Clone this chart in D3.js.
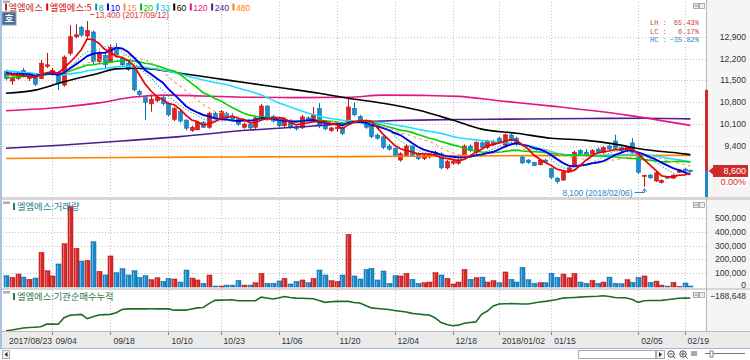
<!DOCTYPE html>
<html><head><meta charset="utf-8">
<script src="https://cdn.jsdelivr.net/npm/d3@7/dist/d3.min.js"></script>
<style>body{margin:0;background:#fff}svg{display:block}</style>
</head><body>
<svg id="c" width="750" height="360"></svg>
<script>
// ---------------- DATA ----------------
const dates = ["2017/08/23","2017/08/24","2017/08/25","2017/08/28","2017/08/29","2017/08/30","2017/08/31","2017/09/01",
"2017/09/04","2017/09/05","2017/09/06","2017/09/07","2017/09/08","2017/09/11","2017/09/12","2017/09/13","2017/09/14","2017/09/15",
"2017/09/18","2017/09/19","2017/09/20","2017/09/21","2017/09/22","2017/09/25","2017/09/26","2017/09/27","2017/09/28","2017/09/29",
"2017/10/10","2017/10/11","2017/10/12","2017/10/13","2017/10/16","2017/10/17","2017/10/18","2017/10/19","2017/10/20",
"2017/10/23","2017/10/24","2017/10/25","2017/10/26","2017/10/27","2017/10/30","2017/10/31","2017/11/01","2017/11/02","2017/11/03",
"2017/11/06","2017/11/07","2017/11/08","2017/11/09","2017/11/10","2017/11/13","2017/11/14","2017/11/15","2017/11/16","2017/11/17",
"2017/11/20","2017/11/21","2017/11/22","2017/11/23","2017/11/24","2017/11/27","2017/11/28","2017/11/29","2017/11/30","2017/12/01",
"2017/12/04","2017/12/05","2017/12/06","2017/12/07","2017/12/08","2017/12/11","2017/12/12","2017/12/13","2017/12/14","2017/12/15",
"2017/12/18","2017/12/19","2017/12/20","2017/12/21","2017/12/22","2017/12/26","2017/12/27","2017/12/28",
"2018/01/02","2018/01/03","2018/01/04","2018/01/05","2018/01/08","2018/01/09","2018/01/10","2018/01/11","2018/01/12",
"2018/01/15","2018/01/16","2018/01/17","2018/01/18","2018/01/19","2018/01/22","2018/01/23","2018/01/24","2018/01/25","2018/01/26",
"2018/01/29","2018/01/30","2018/01/31","2018/02/01","2018/02/02",
"2018/02/05","2018/02/06","2018/02/07","2018/02/08","2018/02/09","2018/02/12","2018/02/13","2018/02/14",
"2018/02/19","2018/02/20"];

const open = [11780,11480,11560,11820,11560,11600,11560,11950,11700,11750,11350,12370,12900,13200,12920,13050,12100,12300,12100,12560,
12200,12050,11850,11150,10950,10750,10850,10950,10770,10250,10500,10230,9900,9920,10150,10000,10450,10300,10450,10350,
10250,10000,10100,10000,10300,10680,10350,10250,10050,10200,10000,9980,10300,10200,10600,10050,9900,9950,10000,10170,
10600,10350,10200,10050,9750,9690,9400,9330,8950,9100,9400,9150,9000,9050,9100,9150,8700,8850,8850,9100,
9400,9200,9500,9350,9450,9650,9430,9750,9650,9050,8950,8870,8800,8950,8680,8370,8310,8600,8770,9250,
9200,9100,9300,9200,9400,9560,9350,9250,9500,9110,8430,8470,8280,8230,8420,8370,8560,8660,8620];
const high = [11850,11620,11760,11900,11720,11620,12150,12380,11900,11800,12300,13270,13300,13250,13400,13100,12450,12400,12650,12700,
12250,12100,11900,11200,11000,11050,11000,11000,10800,10650,10550,10250,10050,10200,10200,10500,10500,10550,10500,10450,
10300,10150,10150,10350,10750,10700,10400,10300,10250,10250,10050,10400,10350,10650,10770,10100,10000,10050,10050,10970,
10800,10400,10250,10100,9800,9720,9450,9350,9200,9450,9420,9200,9150,9150,9250,9200,8950,8950,9000,9450,
9450,9550,9550,9600,9600,9700,9800,9800,9700,9100,8980,8890,8980,8980,8700,8400,8600,8750,9250,9300,
9300,9300,9350,9400,9450,9760,9400,9400,9650,9150,8480,8500,8600,8330,8440,8480,8650,8700,8650];
const low = [11500,11360,11520,11600,11480,11320,11540,11900,11650,11190,11300,12300,12850,12900,12850,12000,12050,11900,12050,12250,
11950,11800,11150,10950,10230,10500,10800,10700,10350,10200,10150,9900,9850,9900,9980,9950,10250,10250,10250,10200,
10050,9950,9900,9950,10250,10250,10150,10000,10000,9950,9900,9950,10150,10150,9970,9900,9850,9850,9750,10100,
10350,10150,9950,9650,9600,9300,9250,9050,8900,9050,9050,8950,8950,9000,9050,8650,8650,8800,8800,9050,
9200,9150,9300,9300,9400,9500,9400,9550,9400,8820,8830,8750,8780,8850,8350,8200,8280,8580,8750,9100,
9050,9050,9150,9150,9250,9300,9200,9200,9150,8500,8100,8350,8250,8200,8350,8360,8540,8580,8580];
const close = [11560,11580,11700,11650,11650,11380,12050,12000,11820,11400,12250,12900,12960,12950,13100,12100,12350,12000,12560,12300,
12000,11850,11200,11050,10800,10900,10950,10760,10400,10600,10200,9970,10000,10150,10000,10450,10300,10500,10300,10250,
10100,10100,9980,10300,10680,10300,10200,10050,10200,10000,9950,10330,10200,10400,10050,9950,9980,10000,9800,10650,
10400,10200,10000,9700,9650,9360,9300,9100,9150,9400,9100,9000,9100,9120,9200,8700,8900,8900,8950,9400,
9250,9520,9350,9550,9550,9530,9760,9600,9450,8860,8870,8780,8950,8880,8400,8260,8570,8700,9200,9150,
9100,9250,9200,9350,9300,9330,9250,9380,9200,8560,8460,8380,8540,8300,8370,8470,8640,8600,8600];
// closes of the sessions before 2017/08/23 (needed for the moving averages)
const priorClose = [12200,12350,12250,12100,12050,12300,12150,12000,12100,12250,12050,12100,12050,
11500,11400,11350,11450,11550,11500,11400,11450,11500,11400,
11700,11750,11800,11700,11850,11750,11700,11800,11750];
const volume = [82000,70000,94000,72000,56000,65000,251000,118000,80000,167000,314000,582000,280000,188000,193000,328000,114000,87000,225000,104000,
133000,87000,118000,70000,82000,53000,67000,41000,63000,58000,36000,123000,65000,51000,27000,87000,7000,7000,14000,14000,
48000,14000,14000,31000,99000,27000,27000,44000,63000,22000,41000,51000,31000,63000,123000,87000,46000,41000,87000,382000,
80000,58000,128000,135000,51000,116000,27000,82000,80000,99000,56000,27000,31000,36000,104000,87000,63000,22000,36000,128000,
56000,67000,72000,36000,46000,31000,109000,56000,36000,143000,53000,27000,31000,31000,99000,70000,94000,67000,99000,36000,
27000,48000,27000,36000,72000,27000,24000,53000,34000,70000,80000,34000,43000,14000,7000,34000,3000,29000,7000];
// 기관순매수누적 (cumulative institutional net buying, shares)
const instCum = [-1356000,-1331000,-1295000,-1260000,-1242000,-1231000,-1217000,-1123000,-1121000,-1125000,
-891000,-808000,-787000,-772000,-926000,-855000,-797000,-780000,-772000,-715000,
-597000,-575000,-574000,-576000,-575000,-573000,-575000,-576000,-575000,-622000,
-621000,-622000,-579000,-540000,-525000,-389000,-271000,-264000,-257000,-250000,
-282000,-282000,-283000,-281000,-156000,-185000,-224000,-185000,-131000,-167000,
-189000,-196000,-203000,-214000,-275000,-343000,-321000,-307000,-306000,-308000,
-346000,-364000,-454000,-540000,-561000,-579000,-597000,-633000,-658000,-686000,
-737000,-758000,-780000,-797000,-901000,-1066000,-1134000,-1181000,-1159000,-1088000,
-1063000,-1041000,-772000,-651000,-472000,-400000,-393000,-389000,-393000,-400000,
-401000,-364000,-328000,-307000,-275000,-239000,-189000,-178000,-167000,-156000,
-142000,-131000,-121000,-106000,-131000,-167000,-178000,-185000,-239000,-343000,
-282000,-278000,-275000,-271000,-250000,-224000,-196000,-189000,-188648];
// long moving averages (session index, price)
const ma60Idx  = [0,5,10,16,19,22,25,30,36,42,48,54,59,65,71,77,82,88,94,100,105,110,116,118];
const ma60Val  = [11090,11190,11460,11730,11870,11890,11870,11730,11570,11410,11250,11090,10930,10770,10550,10230,9940,9810,9650,9580,9460,9290,9170,9125];
const ma120Idx = [0,10,16,22,28,34,42,50,59,65,72,78,85,95,107,118];
const ma120Val = [10530,10650,10780,10970,11030,11000,10960,10950,10960,11030,11020,10990,10850,10660,10390,10060];
const ma240Idx = [0,10,20,30,42,53,62,71,80,90,100,110,118];
const ma240Val = [9330,9430,9560,9700,9910,10040,10180,10230,10250,10265,10280,10290,10270];
const ma480Idx = [0,20,40,60,80,100,118];
const ma480Val = [9000,9030,9050,9060,9085,9095,9100];
const shortPeriods = [33,20,15,10,8,5];
const legendItems = ["엘엠에스","엘엠에스:5","8","10","15","20","33","60","120","240","480"];
const tickIdx    = [0,8,18,28,37,47,57,67,77,85,94,109,117];
const tickLabels = ["2017/08/23","09/04","09/18","10/10","10/23","11/06","11/20","12/04","12/18","2018/01/02","01/15","02/05","02/19"];
const priceTicks = [12900,12200,11500,10800,10100,9400];
const volTicks   = [0,100000,200000,300000,400000,500000];
const refHigh = 11200;

// ---------------- LAYOUT ----------------
const N = close.length;
const svg = d3.select("#c");
const NUM = "'Liberation Sans', Arial, sans-serif";
const KR = "'Noto Sans CJK KR', 'Liberation Sans', sans-serif";
const UP = "#e02222", UPS = "#c01414", DN = "#1a8fd0", DNS = "#0f6fb0";
const plotL = 3, plotR = 706;
const main = {t:2, b:197}, volP = {t:200, b:288}, cumP = {t:290, b:331};

const x  = d3.scaleLinear().domain([0, N-1]).range([6, 6 + (N-1)*5.8]);
const yP = d3.scaleLinear().domain([9400, 12900]).range([146, 36.7]);
const yV = d3.scaleLinear().domain([0, 500000]).range([287, 218]);
const yC = d3.scaleLinear().domain([-1400000, 0]).range([331.9, 292.8]);

svg.append("rect").attr("width",750).attr("height",360).attr("fill","#fff");
svg.append("rect").attr("x",707).attr("y",0).attr("width",43).attr("height",331).attr("fill","#f5f5f5");

// clip paths
const defs = svg.append("defs");
[["cm",main],["cv",volP],["cc",cumP]].forEach(([id,p])=>{
  defs.append("clipPath").attr("id",id).append("rect")
    .attr("x",plotL).attr("y",p.t).attr("width",plotR-plotL).attr("height",p.b-p.t);
});

// grids
const grid = svg.append("g").attr("stroke","#c4c4c4").attr("stroke-dasharray","1,2").attr("stroke-width",1);
tickIdx.filter(i=>i>0).forEach(i=>{
  grid.append("line").attr("x1",Math.round(x(i))+0.5).attr("x2",Math.round(x(i))+0.5).attr("y1",main.t).attr("y2",cumP.b);
});
priceTicks.forEach(p=>{
  grid.append("line").attr("x1",plotL).attr("x2",plotR).attr("y1",Math.round(yP(p))+0.5).attr("y2",Math.round(yP(p))+0.5);
});
volTicks.filter(v=>v>0).forEach(v=>{
  grid.append("line").attr("x1",plotL).attr("x2",plotR).attr("y1",Math.round(yV(v))+0.5).attr("y2",Math.round(yV(v))+0.5);
});

// ---------- main panel ----------
const gm = svg.append("g").attr("clip-path","url(#cm)");
const cg = gm.append("g");
close.forEach((c,i)=>{
  const o = open[i], up = c >= o;
  const cx = Math.round(x(i)) + 0.5;
  cg.append("line").attr("x1",cx).attr("x2",cx).attr("y1",yP(high[i])).attr("y2",yP(low[i]))
    .attr("stroke", up?UPS:DNS).attr("stroke-width",1);
  const yt = yP(Math.max(o,c)), yb = yP(Math.min(o,c));
  cg.append("rect").attr("x",cx-2).attr("width",4).attr("y",yt).attr("height",Math.max(1,yb-yt))
    .attr("fill", up?UP:DN).attr("stroke", up?UPS:DNS).attr("stroke-width",0.6);
});
const longStyles = [
  [ma480Idx, ma480Val, "#ff8000", 1.6],
  [ma240Idx, ma240Val, "#4b1d8f", 1.6],
  [ma120Idx, ma120Val, "#e3157f", 1.6],
  [ma60Idx,  ma60Val,  "#000000", 1.6]
];
longStyles.forEach(([ix,vals,col,w])=>{
  gm.append("path").datum(ix.map((d,k)=>[d,vals[k]]))
    .attr("fill","none").attr("stroke",col).attr("stroke-width",w)
    .attr("d", d3.line().x(d=>x(d[0])).y(d=>yP(d[1])).curve(d3.curveMonotoneX));
});
const allC = priorClose.concat(close), off = priorClose.length;
const sma = p => close.map((_,i)=> d3.mean(allC.slice(i+off-p+1, i+off+1)));
const shortStyle = {33:["#22dcff",1.6,null],20:["#00d400",1.6,null],15:["#ff9a66",1.1,"3,3"],10:["#0000e6",1.9,null],8:["#009c9c",1.1,"1,2"],5:["#ee0000",1.7,null]};
shortPeriods.forEach(p=>{
  const [col,w,dash] = shortStyle[p];
  gm.append("path").datum(sma(p)).attr("fill","none").attr("stroke",col).attr("stroke-width",w)
    .attr("stroke-dasharray",dash)
    .attr("d", d3.line().x((d,i)=>x(i)).y(d=>yP(d)));
});

// ---------- volume panel ----------
const gv = svg.append("g").attr("clip-path","url(#cv)");
volume.forEach((v,i)=>{
  const up = close[i] >= open[i];
  const bx = Math.round(x(i)) - 2;
  gv.append("rect").attr("x",bx).attr("width",5).attr("y",yV(v)).attr("height",yV(0)-yV(v))
    .attr("fill", up?"#d42a2a":"#1c88c8").attr("stroke", up?"#b01818":"#0f6aa6").attr("stroke-width",0.5);
  gv.append("rect").attr("x",bx+1).attr("width",1).attr("y",yV(v)+1).attr("height",Math.max(0,yV(0)-yV(v)-1))
    .attr("fill", up?"#ee6a6a":"#62b6e6");
});

// ---------- cumulative panel ----------
const gc = svg.append("g").attr("clip-path","url(#cc)");
gc.append("path").datum(instCum).attr("fill","none").attr("stroke","#1b6d21").attr("stroke-width",1.6)
  .attr("d", d3.line().x((d,i)=>x(i)).y(d=>yC(d)));

// ---------- frames / separators ----------
svg.append("rect").attr("x",0).attr("y",main.b).attr("width",750).attr("height",3).attr("fill","#d6d6d6");
svg.append("rect").attr("x",0).attr("y",volP.b).attr("width",750).attr("height",2).attr("fill","#d6d6d6");
svg.append("line").attr("x1",706.5).attr("x2",706.5).attr("y1",0).attr("y2",331).attr("stroke","#b8b8b8");
svg.append("rect").attr("x",0).attr("y",0).attr("width",2).attr("height",349).attr("fill","#a9c2e2");

// x axis strip
svg.append("rect").attr("x",2).attr("y",331).attr("width",748).attr("height",17).attr("fill","#ebebeb");
svg.append("line").attr("x1",2).attr("x2",750).attr("y1",331.5).attr("y2",331.5).attr("stroke","#bcbcbc");
svg.append("line").attr("x1",0).attr("x2",750).attr("y1",348.5).attr("y2",348.5).attr("stroke","#9fb8d8");
tickIdx.forEach((i,k)=>{
  const tx = Math.round(x(i))+0.5;
  if (i>0) svg.append("line").attr("x1",tx).attr("x2",tx).attr("y1",332).attr("y2",335).attr("stroke","#888");
  svg.append("text").attr("x",x(i)+3).attr("y",343.5).attr("font-family",NUM).attr("font-size","8.6px")
    .attr("fill","#333").text(tickLabels[k]);
});

// right axes
const fmt = d3.format(",");
priceTicks.forEach(p=>{
  svg.append("text").attr("x",746).attr("y",yP(p)+3).attr("text-anchor","end").attr("font-family",NUM)
    .attr("font-size","8.6px").attr("fill","#333").text(fmt(p));
});
volTicks.forEach(v=>{
  svg.append("text").attr("x",746).attr("y",yV(v)+(v===0?1:3)).attr("text-anchor","end").attr("font-family",NUM)
    .attr("font-size","8.6px").attr("fill","#333").text(fmt(v));
});
svg.append("text").attr("x",746).attr("y",yC(instCum[N-1])+0.5).attr("text-anchor","end").attr("font-family",NUM)
  .attr("font-size","8.6px").attr("fill","#333").text(fmt(instCum[N-1]));

// range bar & current price marker
const last = close[N-1], prev = close[N-2];
svg.append("rect").attr("x",705).attr("y",yP(refHigh)).attr("width",3).attr("height",yP(last)-yP(refHigh)).attr("fill","#d42a2a");
svg.append("rect").attr("x",705).attr("y",yP(last)).attr("width",3).attr("height",main.b-yP(last)).attr("fill","#1c88c8");
svg.append("path").attr("d",`M708.5,${yP(last)} L713,${yP(last)-3.5} L713,${yP(last)+3.5} Z`).attr("fill","#d42a2a");
svg.append("rect").attr("x",713).attr("y",yP(last)-6).attr("width",35).attr("height",12).attr("fill","#cf2a2a");
svg.append("text").attr("x",746).attr("y",yP(last)+3.2).attr("text-anchor","end").attr("font-family",NUM)
  .attr("font-size","9px").attr("fill","#fff").text(fmt(last));
svg.append("rect").attr("x",720).attr("y",yP(last)+6).attr("width",28).attr("height",10).attr("fill","#fff");
svg.append("text").attr("x",746).attr("y",yP(last)+14.5).attr("text-anchor","end").attr("font-family",NUM)
  .attr("font-size","9px").attr("fill","#d42a2a").text(d3.format(".2f")((last/prev-1)*100)+"%");

// LH / LC / HC box
const hi = d3.maxIndex(high), lo = d3.minIndex(low);
const stats = [["LH", high[hi]/low[lo]-1, "#d23c3c"],["LC", last/low[lo]-1, "#d23c3c"],["HC", last/high[hi]-1, "#2c86c6"]];
stats.forEach(([k,v,col],j)=>{
  const ty = 25 + j*8.6;
  svg.append("text").attr("x",650).attr("y",ty).attr("font-family","'Liberation Mono', monospace").attr("font-size","7px")
    .attr("fill",col).text(k+" :");
  svg.append("text").attr("x",699).attr("y",ty).attr("text-anchor","end").attr("font-family","'Liberation Mono', monospace")
    .attr("font-size","7px").attr("fill",col).text(d3.format(".2f")(v*100)+"%");
});

// legend (drawn before the high annotation so the annotation sits over it)
const legendColors = ["#c62828","#e00000","#009c9c","#0000e6","#ff8a4c","#00c000","#10c8f0","#000000","#e3157f","#4b1d8f","#ff8000"];
let lxp = 5;
legendItems.forEach((t,k)=>{
  const isNum = /^[0-9]+$/.test(t);
  svg.append("rect").attr("x",lxp).attr("y",3.5).attr("width",2).attr("height",7).attr("fill",legendColors[k]);
  const tt = svg.append("text").attr("x",lxp+3.5).attr("y",10.5)
    .attr("font-family", isNum ? NUM : KR).attr("font-size", isNum ? "8.6px" : "9.3px")
    .attr("fill",legendColors[k]).text(t);
  lxp += 3.5 + tt.node().getComputedTextLength() + 3.5;
});

// high / low annotations
svg.append("line").attr("x1",x(hi)+3).attr("x2",x(hi)+7).attr("y1",14.5).attr("y2",14.5).attr("stroke","#d23c3c");
svg.append("text").attr("x",x(hi)+8).attr("y",18).attr("font-family",NUM).attr("font-size","8.2px").attr("fill","#d23c3c")
  .text(fmt(high[hi])+" ("+dates[hi]+")");
const lx = Math.round(x(lo))+0.5;
svg.append("text").attr("x",lx-12).attr("y",195.5).attr("text-anchor","end").attr("font-family",NUM).attr("font-size","8.3px")
  .attr("fill","#2c86c6").text(fmt(low[lo])+" ("+dates[lo]+")");
svg.append("path").attr("d",`M${lx-10},192.5 H${lx} V${yP(low[lo])+3}`).attr("fill","none").attr("stroke","#2c86c6");
svg.append("path").attr("d",`M${lx-2},${yP(low[lo])+5} L${lx},${yP(low[lo])+2} L${lx+2},${yP(low[lo])+5}`).attr("fill","none").attr("stroke","#2c86c6");

// panel header icons / labels
function icons(y){
  svg.append("rect").attr("x",693.5).attr("y",y+0.5).attr("width",5).attr("height",5).attr("fill","#eee").attr("stroke","#9a9a9a").attr("stroke-width",0.8);
  svg.append("rect").attr("x",699.5).attr("y",y+0.5).attr("width",5).attr("height",5).attr("fill","#eee").attr("stroke","#9a9a9a").attr("stroke-width",0.8);
  svg.append("line").attr("x1",694.5).attr("x2",697.5).attr("y1",y+3).attr("y2",y+3).attr("stroke","#666").attr("stroke-width",0.8);
}
icons(3); icons(202); icons(292);
[[0.5],[201.5],[291]].forEach(([y])=>{
  svg.append("rect").attr("x",3).attr("y",y).attr("width",7).attr("height",2.5).attr("fill","#b0b0b0");
});
svg.append("rect").attr("x",2).attr("y",12).attr("width",14).attr("height",13).attr("fill","#4f6f98").attr("stroke","#8aa0bb");
svg.append("text").attr("x",9).attr("y",22).attr("text-anchor","middle").attr("font-family",KR).attr("font-size","9.5px")
  .attr("font-weight","bold").attr("fill","#fff").text("호");
[["엘엠에스:거래량",210,"#1a7f8a"],["엘엠에스:기관순매수누적",300,"#2a7a4a"]].forEach(([t,y,col])=>{
  svg.append("rect").attr("x",13).attr("y",y-7).attr("width",2).attr("height",7).attr("fill",col);
  svg.append("text").attr("x",17).attr("y",y).attr("font-family",KR).attr("font-size","9.3px").attr("fill",col).text(t);
});

// bottom scroll controls
svg.append("rect").attr("x",2.5).attr("y",350.5).attr("width",7).attr("height",8).attr("fill","#f4f4f4").attr("stroke","#aaa");
svg.append("path").attr("d","M4.5,354.5 L7.5,352 L7.5,357 Z").attr("fill","#222");
svg.append("rect").attr("x",578.5).attr("y",350.5).attr("width",77).attr("height",8).attr("fill","#fff").attr("stroke","#aaa");
svg.append("rect").attr("x",656.5).attr("y",350.5).attr("width",8).attr("height",8).attr("fill","#f4f4f4").attr("stroke","#aaa");
svg.append("path").attr("d","M659,352 L662,354.5 L659,357 Z").attr("fill","#222");
[[671],[683]].forEach(([cx],k)=>{
  svg.append("circle").attr("cx",cx).attr("cy",354).attr("r",3.2).attr("fill","none").attr("stroke","#444");
  svg.append("line").attr("x1",cx+2.2).attr("x2",cx+4.5).attr("y1",356.2).attr("y2",358.5).attr("stroke","#444");
  svg.append("line").attr("x1",cx-1.7).attr("x2",cx+1.7).attr("y1",354).attr("y2",354).attr("stroke","#444");
  if (k===1) svg.append("line").attr("x1",cx).attr("x2",cx).attr("y1",352.3).attr("y2",355.7).attr("stroke","#444");
});
[0,2,4].forEach(d=>svg.append("line").attr("x1",692+d).attr("x2",692+d).attr("y1",351).attr("y2",356).attr("stroke","#555"));
svg.append("line").attr("x1",705).attr("x2",745).attr("y1",353.5).attr("y2",353.5).attr("stroke","#777");
svg.append("rect").attr("x",710).attr("y",351).attr("width",3).attr("height",6).attr("fill","#fff").attr("stroke","#555").attr("stroke-width",0.7);
</script>
</body></html>
